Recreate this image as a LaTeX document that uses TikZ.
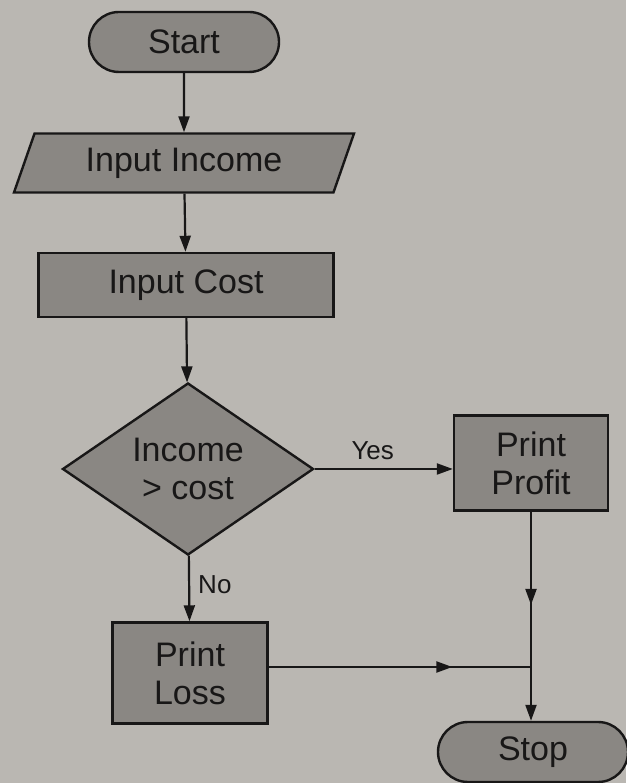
\documentclass[tikz,border=0pt]{standalone}
\usepackage{fontspec}
\setmainfont{Liberation Sans}
\usetikzlibrary{shapes.geometric,shapes.misc,arrows.meta,decorations.markings}
\definecolor{paper}{RGB}{186,183,178}
\definecolor{boxfill}{RGB}{138,135,131}
\definecolor{ink}{RGB}{24,23,23}

\begin{document}
\begin{tikzpicture}[x=1pt,y=1pt,
  font=\fontsize{34}{38}\selectfont,
  base/.style={draw=ink, line width=2.4pt, fill=boxfill, text=ink, align=center, inner sep=0pt},
  term/.style={base, rounded rectangle, minimum width=190pt, minimum height=60pt},
  io/.style={base, trapezium, trapezium left angle=56, trapezium right angle=124,
    trapezium stretches body=true, minimum width=340pt, minimum height=59pt},
  proc/.style={base, rectangle},
  dec/.style={base, diamond, aspect=1.46, minimum width=251pt, minimum height=172pt},
  flow/.style={draw=ink, line width=2.2pt, -{Triangle[length=16pt,width=11pt]}},
  midarrow/.style={draw=ink, line width=2.2pt, postaction={decorate},
    decoration={markings, mark=at position #1 with {\arrow{Triangle[length=16pt,width=11pt]}}}},
  lbl/.style={font=\fontsize{26}{30}\selectfont, text=ink, inner sep=2pt}
]
% page
\fill[paper] (0,0) rectangle (626,783);
\useasboundingbox (0,0) rectangle (626,783);

% nodes
\node[term] (start) at (184,741) {Start};
\node[io] (inc) at (184,620) {Input Income};
\node[proc, minimum width=295pt, minimum height=64pt] (cost) at (186,498) {Input Cost};
\node[dec] (cmp) at (188,314) {Income\\> cost};
\node[proc, minimum width=154pt, minimum height=95pt] (profit) at (531,320) {Print\\Profit};
\node[proc, minimum width=155pt, minimum height=101pt] (loss) at (190,110) {Print\\Loss};
\node[term] (stop) at (533,31) {Stop};
\coordinate (join) at (531,116);

% connectors
\draw[flow] (start) -- (inc);
\draw[flow] (inc) -- (cost);
\draw[flow] (cost) -- (cmp);
\draw[flow] (cmp.east) -- (cmp.east -| profit.west)
  node[lbl, pos=0.42, above=6pt] {Yes};
\draw[flow] (cmp) -- (loss)
  node[lbl, pos=0.44, right=6pt] {No};
\draw[midarrow=0.6] (profit) -- (join);
\draw[midarrow=0.7] (loss.east |- join) -- (join);
\draw[flow] (join) -- (join |- stop.north);
\end{tikzpicture}
\end{document}
